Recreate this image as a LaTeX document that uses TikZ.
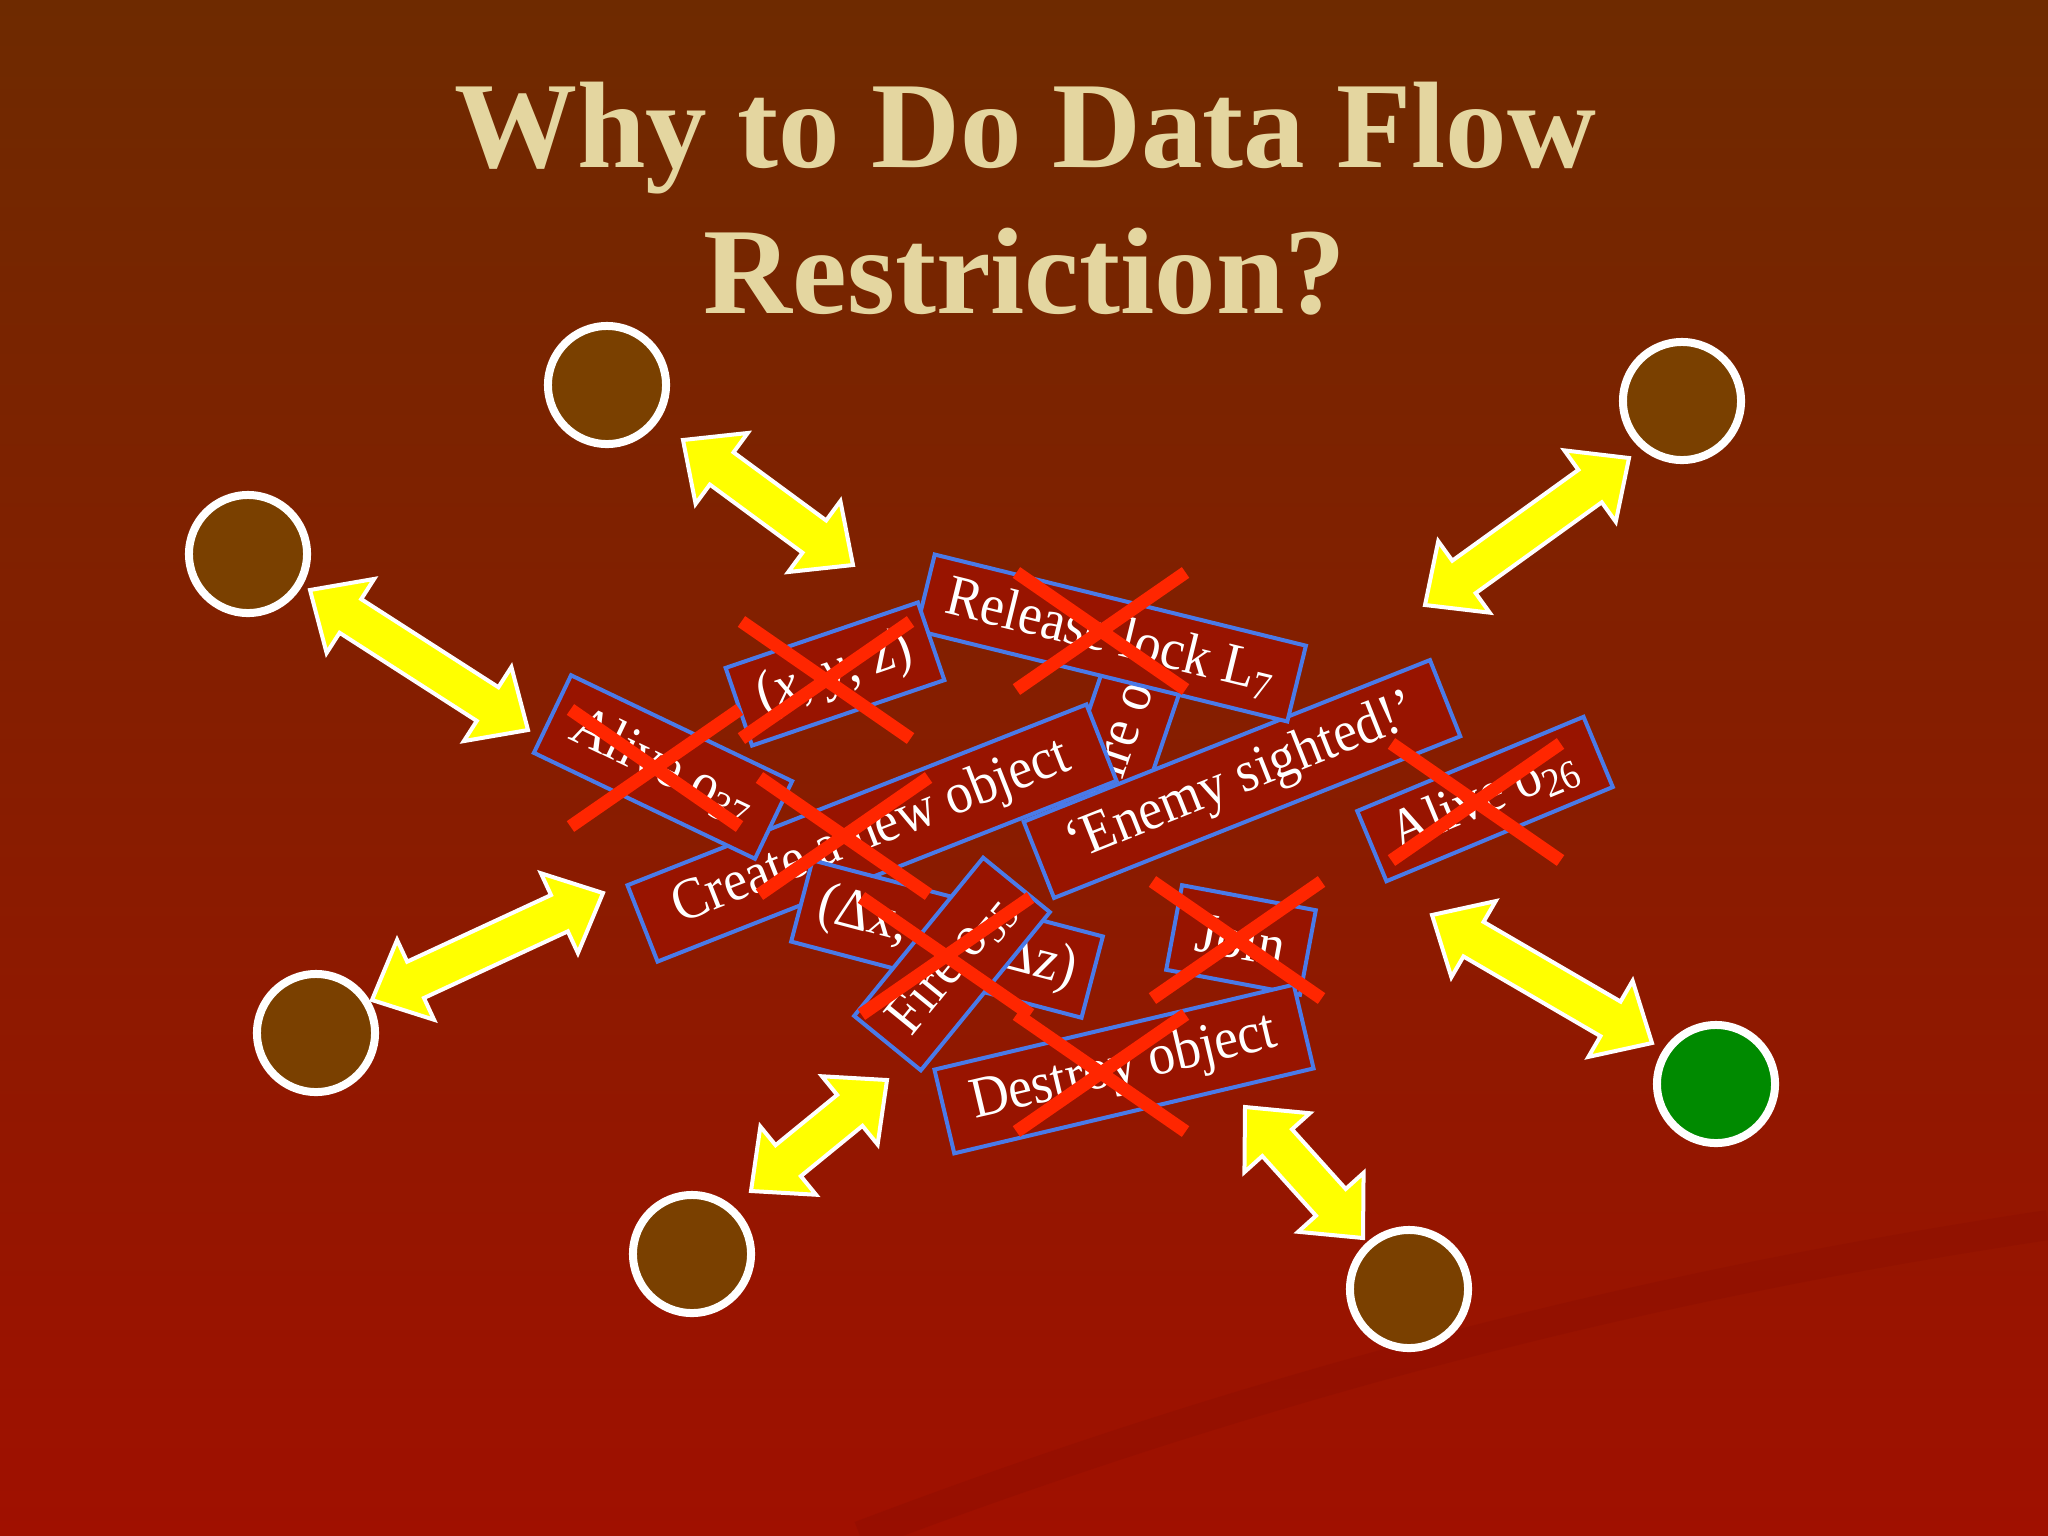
\documentclass[tikz,border=0pt]{standalone}
\usepackage{fontspec}
\setmainfont{Liberation Serif}
\newfontfamily\boxfont[FakeStretch=0.92]{Liberation Serif}
\usepackage{tikz}
\usetikzlibrary{calc, shapes.misc}
\definecolor{bgtop}{RGB}{110,42,0}
\definecolor{bgmid}{RGB}{156,20,0}
\definecolor{bgbot}{RGB}{160,16,0}
\definecolor{boxfill}{RGB}{152,20,0}
\definecolor{boxblue}{RGB}{74,122,232}
\definecolor{titlegold}{RGB}{228,214,160}
\definecolor{agentbrown}{RGB}{122,64,0}
\definecolor{agentgreen}{RGB}{0,138,0}
\definecolor{arrowyellow}{RGB}{255,255,0}
\definecolor{strikered}{RGB}{255,38,0}
\definecolor{swooshred}{RGB}{135,12,0}
\tikzstyle{heading} = [text=titlegold, font=\fontsize{35}{42}\selectfont\bfseries, anchor=base]
\tikzstyle{agent} = [circle, minimum size=1.18cm, fill=agentbrown, draw=white, line width=0.08cm]
\tikzstyle{msg} = [rectangle, minimum height=0.82cm, fill=boxfill, draw=boxblue, line width=0.04cm, text=white, font=\boxfont\fontsize{16.5}{19}\selectfont]
\tikzstyle{strike} = [cross out, draw=strikered, line width=0.13cm, minimum width=1.56cm, minimum height=1.04cm, inner sep=0pt]
\tikzstyle{bigarrow} = [fill=arrowyellow, draw=white, line width=0.04cm]
\tikzstyle{swoosh} = [draw=swooshred, line width=0.3cm, opacity=0.3]
\newcommand{\dfarrow}[2]{%
	\filldraw[bigarrow] (#1)
		-- ($(#1)!0.48cm!(#2)!0.44cm!90:(#2)$)
		-- ($(#1)!0.48cm!(#2)!0.2cm!90:(#2)$)
		-- ($(#2)!0.48cm!(#1)!0.2cm!-90:(#1)$)
		-- ($(#2)!0.48cm!(#1)!0.44cm!-90:(#1)$)
		-- (#2)
		-- ($(#2)!0.48cm!(#1)!0.44cm!90:(#1)$)
		-- ($(#2)!0.48cm!(#1)!0.2cm!90:(#1)$)
		-- ($(#1)!0.48cm!(#2)!0.2cm!-90:(#2)$)
		-- ($(#1)!0.48cm!(#2)!0.44cm!-90:(#2)$)
		-- cycle;}
\begin{document}
\begin{tikzpicture}[x=0.01cm, y=-0.01cm]
		\useasboundingbox (0,0) rectangle (2048,1536);
		\shade[top color=bgtop, middle color=bgmid, bottom color=bgbot] (0,0) rectangle (2048,1536);
		\draw[swoosh] (860,1536) .. controls (1350,1350) and (1750,1270) .. (2048,1225);
		\node (title1)[heading] at (1025,167) {Why to Do Data Flow};
		\node (title2)[heading] at (1025,313) {Restriction?};
		\node (cA)[agent] at (607,385) {};
		\node (cB)[agent] at (1682,401) {};
		\node (cC)[agent] at (248,554) {};
		\node (cD)[agent] at (316,1033) {};
		\node (cE)[agent] at (692,1254) {};
		\node (cF)[agent] at (1409,1289) {};
		\node (cG)[agent, fill=agentgreen] at (1716,1084) {};
		\coordinate (tipA) at (683,440); \coordinate (endA) at (853,565);
		\coordinate (tipB) at (1629,458); \coordinate (endB) at (1425,605);
		\coordinate (tipC) at (310,590); \coordinate (endC) at (528,730);
		\coordinate (tipD) at (372,1000); \coordinate (endD) at (603,893);
		\coordinate (tipE) at (751,1191); \coordinate (endE) at (887,1080);
		\coordinate (tipF) at (1363,1238); \coordinate (endF) at (1245,1107);
		\coordinate (tipG) at (1652,1043); \coordinate (endG) at (1432,915);
		\dfarrow{tipA}{endA}
		\dfarrow{tipB}{endB}
		\dfarrow{tipC}{endC}
		\dfarrow{tipD}{endD}
		\dfarrow{tipE}{endE}
		\dfarrow{tipF}{endF}
		\dfarrow{tipG}{endG}
		\node (fire41)[msg, rotate=71.3, minimum width=1.9cm, minimum height=0.8cm] at (1126,726) {Fire o\textsubscript{41}};
		\node (enemy)[msg, rotate=21.7, minimum width=4.37cm] at (1242,779) {‘Enemy sighted!’};
		\node (release)[msg, rotate=-13.8, minimum width=3.82cm, minimum height=0.78cm] at (1111,638) {Release lock L\textsubscript{7}};
		\node (xyz)[msg, rotate=18.8, minimum width=2.03cm] at (835,674) {(\textit{x}, \textit{y}, z)};
		\node (create)[msg, rotate=21.5, minimum width=4.93cm] at (872,833) {Create a new object};
		\node (alive37)[msg, rotate=-25.6, minimum width=2.45cm, minimum height=0.86cm] at (663,767) {Alive o\textsubscript{37}};
		\node (delta)[msg, rotate=-14.7, minimum width=3.0cm, minimum height=0.84cm] at (947,939) {(Δx, Δy, Δz)};
		\node (fire55)[msg, rotate=50.8, minimum width=2.04cm, minimum height=0.86cm] at (952,964) {Fire o\textsubscript{55}};
		\node (join)[msg, rotate=-10.6, minimum width=1.36cm, minimum height=0.86cm] at (1241,940) {Join};
		\node (destroy)[msg, rotate=13.3, minimum width=3.69cm, minimum height=0.86cm] at (1124,1069) {Destroy object};
		\node (alive26)[msg, rotate=22.6, minimum width=2.45cm, minimum height=0.76cm] at (1485,799) {Alive o\textsubscript{26}};
		\node (xAlive37)[strike] at (655,768) {};
		\node (xXyz)[strike] at (826,680) {};
		\node (xRelease)[strike] at (1101,631) {};
		\node (xCreate)[strike] at (844,836) {};
		\node (xFire)[strike] at (946,956) {};
		\node (xJoin)[strike] at (1237,940) {};
		\node (xDestroy)[strike] at (1101,1073) {};
		\node (xAlive26)[strike] at (1476,802) {};
	\end{tikzpicture}
\end{document}
